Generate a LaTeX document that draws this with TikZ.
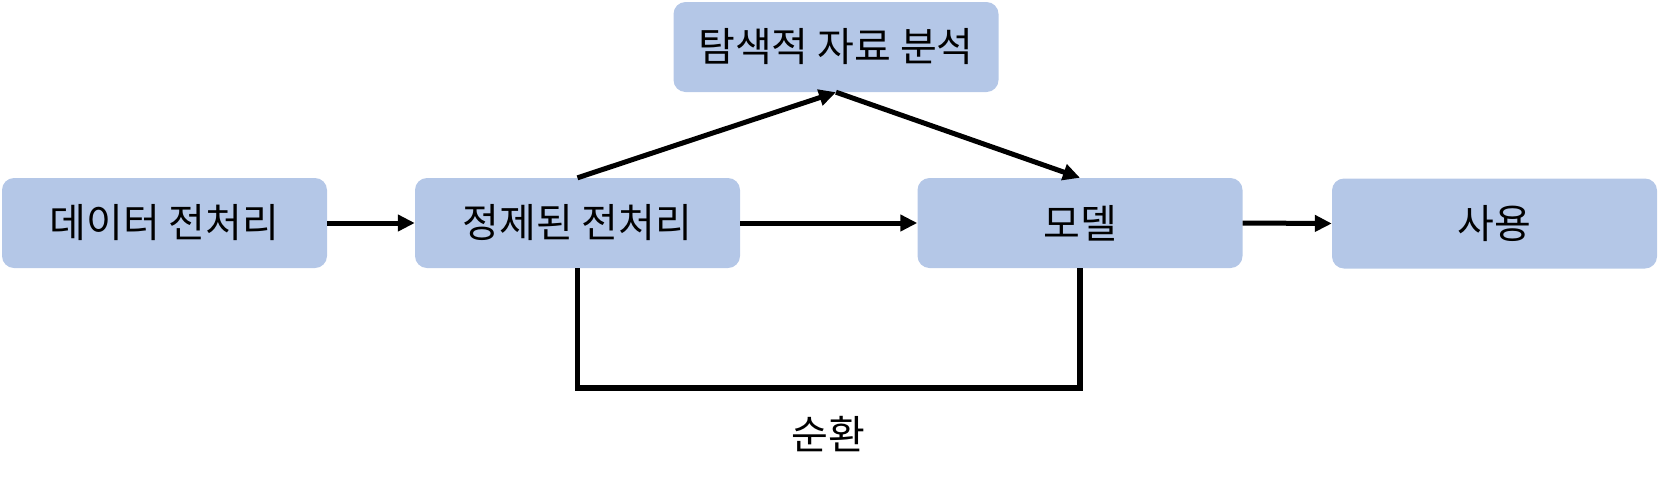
\documentclass[tikz,border=0pt]{standalone}
\usepackage{fontspec}
\setmainfont{Noto Sans CJK KR}
\usetikzlibrary{arrows.meta}
\definecolor{boxblue}{HTML}{B4C7E7}
\tikzset{
  stepbox/.style={fill=boxblue, rounded corners=12pt, minimum width=325pt, minimum height=90pt, inner sep=0pt, font=\fontsize{40}{46}\selectfont},
  conn/.style={line width=5pt, -{Triangle[length=17pt,width=16pt]}},
  plain/.style={line width=5.5pt}
}
\begin{document}
\begin{tikzpicture}[x=1pt,y=-1pt]
\useasboundingbox (0,0) rectangle (1658,483);
\node[stepbox] (A) at (164.5,223) {데이터 전처리};
\node[stepbox] (B) at (577.5,223) {정제된 전처리};
\node[stepbox] (C) at (836,47) {탐색적 자료 분석};
\node[stepbox] (D) at (1080,223) {모델};
\node[stepbox] (E) at (1494.5,223.5) {사용};
\node[font=\fontsize{40}{46}\selectfont] (L) at (828,434) {순환};
\draw[conn] (A.east) -- (B.west);
\draw[conn] (B.east) -- (D.west);
\draw[conn] (D.east) -- (E.west);
\draw[conn] (B.north) -- (C.south);
\draw[conn] (C.south) -- (D.north);
\coordinate (bl) at (577.5,388);
\draw[plain] (B.south) -- (bl) -| (D.south);
\end{tikzpicture}
\end{document}
